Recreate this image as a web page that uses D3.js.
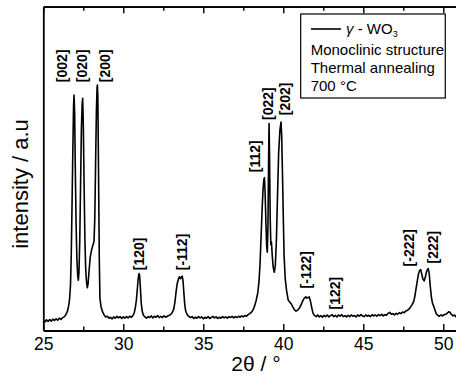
<!DOCTYPE html>
<html>
<head>
<meta charset="utf-8">
<script src="https://cdn.jsdelivr.net/npm/d3@7"></script>
<style>
  body { margin: 0; background: #fff; }
  svg { display: block; font-family: "Liberation Sans", Arial, Helvetica, sans-serif; }
</style>
</head>
<body>
<svg id="chart" width="456" height="376"></svg>
<script>
// ---- data ----
const twoTheta = [
25.00,25.10,25.20,25.30,25.40,25.50,25.60,25.70,25.80,25.90,26.00,26.10,26.20,26.30,26.40,26.50,26.58,26.64,26.70,26.75,
26.80,26.85,26.89,26.92,26.96,27.00,27.05,27.10,27.15,27.19,27.23,27.28,27.33,27.38,27.43,27.46,27.50,27.55,27.60,27.65,
27.70,27.75,27.80,27.87,27.93,28.00,28.08,28.17,28.22,28.27,28.32,28.36,28.38,28.41,28.45,28.50,28.54,28.60,28.70,28.80,
28.90,29.00,29.10,29.20,29.30,29.40,29.50,29.60,29.70,29.80,29.90,30.00,30.10,30.20,30.30,30.40,30.50,30.60,30.68,30.75,
30.82,30.88,30.93,30.98,31.02,31.07,31.12,31.18,31.25,31.35,31.45,31.55,31.65,31.75,31.85,31.95,32.05,32.15,32.25,32.35,
32.45,32.55,32.65,32.75,32.85,32.95,33.05,33.15,33.22,33.30,33.37,33.45,33.52,33.57,33.62,33.68,33.73,33.78,33.84,33.90,
33.98,34.08,34.20,34.30,34.40,34.50,34.60,34.70,34.80,34.90,35.00,35.10,35.20,35.30,35.40,35.50,35.60,35.70,35.80,35.90,
36.00,36.10,36.20,36.30,36.40,36.50,36.60,36.70,36.80,36.90,37.00,37.10,37.20,37.30,37.40,37.50,37.60,37.70,37.80,37.90,
38.00,38.10,38.20,38.30,38.40,38.48,38.55,38.62,38.68,38.74,38.79,38.82,38.86,38.91,38.96,39.00,39.04,39.08,39.11,39.14,
39.18,39.22,39.26,39.31,39.37,39.44,39.50,39.57,39.64,39.71,39.79,39.86,39.90,39.95,40.00,40.05,40.12,40.20,40.30,40.40,
40.50,40.60,40.70,40.80,40.90,41.00,41.10,41.20,41.30,41.40,41.48,41.55,41.62,41.70,41.78,41.86,41.95,42.05,42.15,42.25,
42.35,42.45,42.55,42.65,42.75,42.85,42.95,43.05,43.15,43.25,43.35,43.45,43.55,43.65,43.75,43.85,43.95,44.05,44.15,44.25,
44.35,44.45,44.55,44.65,44.75,44.85,44.95,45.05,45.15,45.25,45.35,45.45,45.55,45.65,45.75,45.85,45.95,46.05,46.15,46.25,
46.35,46.45,46.55,46.65,46.75,46.85,46.95,47.05,47.15,47.25,47.35,47.45,47.55,47.65,47.75,47.85,47.95,48.05,48.15,48.22,
48.30,48.38,48.45,48.52,48.59,48.65,48.72,48.80,48.88,48.95,49.02,49.06,49.12,49.18,49.25,49.32,49.40,49.48,49.56,49.65,
49.75,49.85,49.95,50.05,50.15,50.25,50.35,50.42,50.50,50.60,50.70,50.80,50.90,51.00
];
const intensity = [
3.0,2.6,3.3,2.8,3.4,2.9,3.5,3.1,3.6,3.2,3.8,3.4,3.9,4.2,4.8,5.8,7.5,9.5,14,24,
40,57,69,72.7,67,50,33,22,17,15.5,18,28,45,62,70,71.7,64,45,28,19,
15,13.2,14.5,19,22.5,24.5,26,27.5,35,52,68,75,75.8,72,50,22,10,7.5,5.8,4.8,
4.2,4.4,3.8,4.1,3.6,4.2,3.8,4.4,3.9,4.3,3.7,4.2,3.8,4.3,3.9,4.4,4.1,4.6,5.4,7,
9.5,13,16,17.6,17.0,13,8.5,6.0,4.8,4.2,3.8,4.3,4.0,4.5,3.9,4.4,4.1,4.6,4.0,4.4,
4.0,4.5,4.1,4.4,4.6,4.9,5.5,6.5,8.5,12,14.5,16.0,16.6,16.0,16.3,16.8,15.5,12,8,6,
5,4.4,4.0,4.3,3.7,4.1,3.8,4.3,3.9,4.2,3.6,4.1,3.8,4.3,3.7,4.0,4.4,3.9,4.2,3.7,
4.1,3.8,4.3,3.9,4.2,3.8,4.3,4.0,4.4,3.9,4.3,4.0,4.4,4.1,4.5,4.2,4.6,4.4,4.9,5.2,
5.6,6.3,7.5,9.2,11.5,15,21,30,38,44,46.8,47.2,43,34,26,24.2,32,52,63.9,54,
35,26.5,27.3,23,19.5,18.0,20,28,42,55,62,64.4,60,48,35,23,16,12.5,9.5,8.8,
8.2,7.2,6.4,6.0,6.3,6.9,7.8,9.0,9.9,10.4,10.0,10.2,10.4,9.0,7.0,5.3,4.6,4.3,4.8,4.2,
4.6,4.1,4.7,4.3,4.8,4.2,4.6,4.9,4.3,4.7,4.2,4.8,4.4,4.9,4.3,4.6,4.2,4.7,4.3,4.8,
4.4,4.6,4.2,4.8,4.4,4.9,4.5,4.3,4.8,4.4,4.7,4.3,4.9,4.5,4.8,4.4,4.9,4.6,5.0,4.5,
4.9,4.7,5.3,5.6,5.0,5.2,4.8,5.3,5.0,5.5,5.2,5.7,5.5,6.0,6.2,6.6,7.2,8.0,9.0,10.5,
13,15.5,17.5,18.5,18.8,17.5,16,15.3,16.5,18.2,19.0,19.1,17.5,14,10.5,8.5,7.5,6.3,5.2,4.7,
4.4,4.8,4.5,4.9,5.0,5.4,5.8,5.6,5.0,4.5,4.8,4.2,4.5,4.3
];

// Peak (hkl) annotations: label, 2θ of label baseline, intensity level where label starts
const peakLabels = ["[002]","[020]","[200]","[120]","[-112]","[112]","[022]","[202]","[-122]","[122]","[-222]","[222]"];
const peakTheta  = [26.48, 27.73, 29.17, 31.29, 33.98, 38.54, 39.36, 40.42, 41.73, 43.54, 48.17, 49.67];
const peakLevel  = [76.7, 76.7, 76.7, 18.6, 18.6, 48.9, 65.0, 66.5, 13.0, 6.5, 19.8, 20.7];

const majorTicks = [25, 30, 35, 40, 45, 50];
const minorTicks = [27.5, 32.5, 37.5, 42.5, 47.5];
const legendLines = ["Monoclinic structure", "Thermal annealing", "700 °C"];

// ---- layout ----
const svg = d3.select("#chart");
const mLeft = 43.3, mRight = 459.3, mTop = 6.7, mBottom = 330.5;
const x = d3.scaleLinear().domain([25, 51]).range([mLeft, mRight]);
const y = d3.scaleLinear().domain([0, 100]).range([mBottom, mTop]);

const data = twoTheta.map((t, i) => [t, intensity[i]]);

// spectrum
svg.append("path")
  .datum(data)
  .attr("fill", "none")
  .attr("stroke", "#000")
  .attr("stroke-width", 1.6)
  .attr("stroke-linejoin", "round")
  .attr("d", d3.line().x(d => x(d[0])).y(d => y(d[1])));

// axes
const bAxis = svg.append("g").attr("transform", `translate(0,${mBottom})`)
  .call(d3.axisBottom(x).tickValues(majorTicks).tickSize(-6.5).tickSizeOuter(0).tickPadding(7.5).tickFormat(d3.format("d")));
svg.append("g").attr("transform", `translate(0,${mBottom})`)
  .call(d3.axisBottom(x).tickValues(minorTicks).tickSize(-4).tickSizeOuter(0).tickFormat(""));
svg.append("g").attr("transform", `translate(0,${mTop})`)
  .call(d3.axisTop(x).tickValues(majorTicks).tickSize(-6.5).tickSizeOuter(0).tickFormat(""));
svg.append("g").attr("transform", `translate(0,${mTop})`)
  .call(d3.axisTop(x).tickValues(minorTicks).tickSize(-4).tickSizeOuter(0).tickFormat(""));
svg.append("g").attr("transform", `translate(${mLeft},0)`)
  .call(d3.axisLeft(y).tickValues([]).tickSizeOuter(0));

svg.selectAll(".domain").attr("stroke", "#000").attr("stroke-width", 1.8);
svg.selectAll(".tick line").attr("stroke", "#000").attr("stroke-width", 1.4);
bAxis.selectAll(".tick text").attr("font-size", 17.5).attr("fill", "#000")
  .attr("font-family", "'Liberation Sans', Arial, sans-serif");

// axis titles
svg.append("text")
  .attr("x", 256).attr("y", 371)
  .attr("text-anchor", "middle")
  .attr("font-size", 21)
  .text("2θ / °");
svg.append("text")
  .attr("transform", "translate(28,184) rotate(-90)")
  .attr("text-anchor", "middle")
  .attr("font-size", 22)
  .text("intensity / a.u");

// peak labels
svg.append("g").selectAll("text")
  .data(peakLabels)
  .join("text")
  .attr("transform", (d, i) => `translate(${x(peakTheta[i])},${y(peakLevel[i])}) rotate(-90)`)
  .attr("font-size", 14)
  .attr("font-weight", "bold")
  .text(d => d);

// legend
const lg = svg.append("g");
lg.append("rect")
  .attr("x", 300.7).attr("y", 14).attr("width", 144.6).attr("height", 84)
  .attr("fill", "#fff").attr("stroke", "#000").attr("stroke-width", 1.2);
lg.append("line")
  .attr("x1", 311).attr("x2", 341).attr("y1", 29).attr("y2", 29)
  .attr("stroke", "#000").attr("stroke-width", 1.6);
const t1 = lg.append("text").attr("x", 346).attr("y", 34).attr("font-size", 15);
t1.append("tspan").attr("font-style", "italic").text("γ");
t1.append("tspan").text(" - WO");
t1.append("tspan").attr("font-size", 9).attr("dy", 3).text("3");
lg.selectAll("text.ll")
  .data(legendLines)
  .join("text")
  .attr("class", "ll")
  .attr("x", 310.7)
  .attr("y", (d, i) => 55 + i * 18)
  .attr("font-size", 15)
  .text(d => d);
</script>
</body>
</html>
